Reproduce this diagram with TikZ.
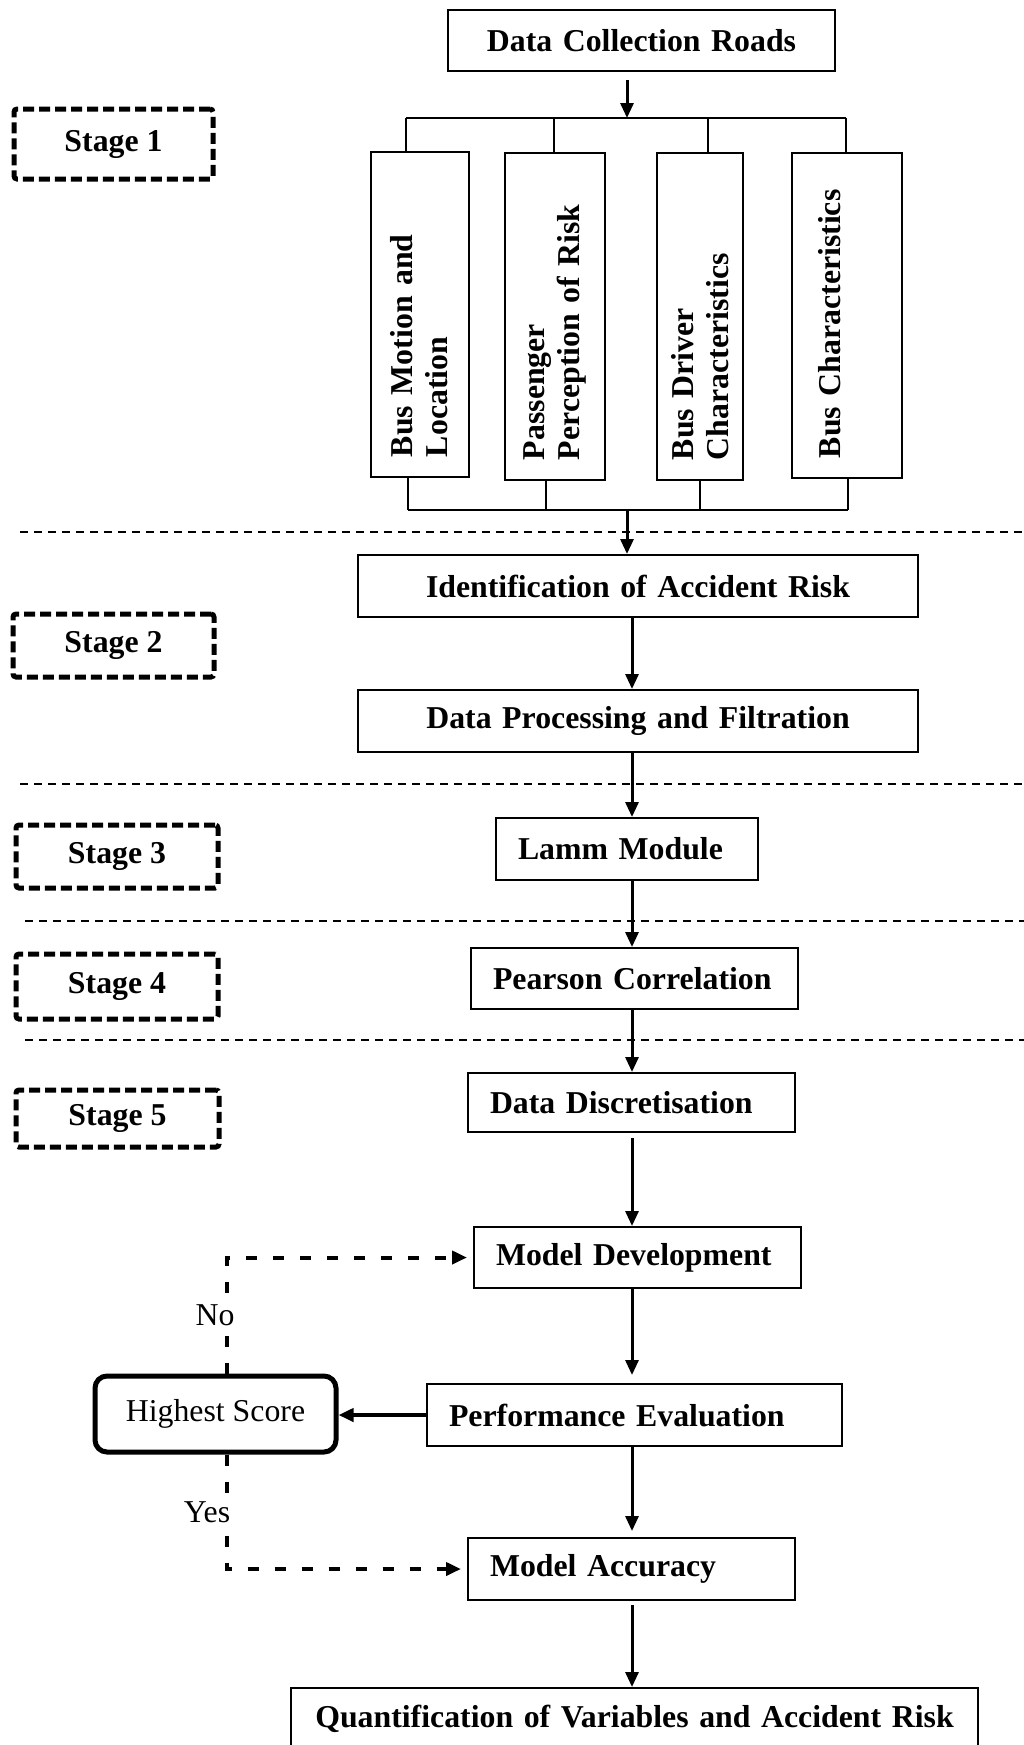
\documentclass[tikz,border=0pt]{standalone}
\usepackage{fontspec}
\setmainfont{Liberation Serif}
\usetikzlibrary{arrows.meta}

\begin{document}
\begin{tikzpicture}[
    x=1pt, y=-1pt,
    every node/.style={font=\fontsize{31.8}{35}\selectfont\bfseries, inner sep=0pt},
    procbox/.style={draw, line width=2pt, minimum height=62pt, inner xsep=22pt, anchor=north west},
    factorbox/.style={draw, line width=2pt, rotate=90, inner xsep=20pt, align=left},
    stagebox/.style={draw, line width=5pt, dash pattern=on 11pt off 5pt, rounded corners=3pt},
    scorebox/.style={draw, line width=5pt, rounded corners=12pt, font=\fontsize{31.8}{35}\selectfont, minimum width=241pt, minimum height=76pt},
    decision/.style={fill=white, font=\fontsize{31.8}{35}\selectfont, inner sep=8pt},
    arr/.style={line width=3pt, -{Triangle[length=15pt,width=13pt]}},
    feedback/.style={line width=4pt, dash pattern=on 11pt off 16pt, -{Triangle[length=15pt,width=13pt]}},
    branch/.style={line width=1.5pt},
    sep/.style={line width=1.5pt, dash pattern=on 8pt off 6pt}
]
\useasboundingbox (0,0) rectangle (1024,1745);

\foreach \y/\x in {532/20, 784/20, 921/25, 1040/25}
    \draw[sep] (\x,\y) -- (1024,\y);

\node[stagebox, minimum width=199pt, minimum height=70pt] (stage1) at (113.5,144) {Stage 1};
\node[stagebox, minimum width=201pt, minimum height=63pt] (stage2) at (113.5,645.5) {Stage 2};
\node[stagebox, minimum width=202pt, minimum height=63pt] (stage3) at (117,856.5) {Stage 3};
\node[stagebox, minimum width=202pt, minimum height=65pt] (stage4) at (117,986.5) {Stage 4};
\node[stagebox, minimum width=203pt, minimum height=57pt] (stage5) at (117.5,1118.5) {Stage 5};

\node[procbox, text width=343pt, align=center, minimum height=61pt] (collect) at (447,9) {Data Collection Roads};

\node[factorbox, minimum width=325pt, minimum height=98pt, text width=285pt] (motion) at (419.5,314.5) {Bus Motion and\\Location};
\node[factorbox, minimum width=327pt, minimum height=100pt, text width=287pt] (perception) at (555,316.5) {Passenger\\Perception of Risk};
\node[factorbox, minimum width=327pt, minimum height=86pt, text width=287pt] (driver) at (700,316.5) {Bus Driver\\Characteristics};
\node[factorbox, minimum width=325pt, minimum height=110pt, text width=285pt] (vehicle) at (847,315.5) {Bus Characteristics\\\mbox{}};

\coordinate (split) at (627,118);
\coordinate (merge) at (627,510);
\coordinate (col) at (632,0);
\coordinate (loop) at (227,0);

\draw[branch] (406,118) -- (846,118);
\draw[branch] (408,510) -- (848,510);
\foreach \name/\tx/\bx in {motion/406/408, perception/554/546, driver/708/700, vehicle/846/848} {
    \draw[branch] (\tx,118) -- (\tx,0 |- \name.east);
    \draw[branch] (\bx,0 |- \name.west) -- (\bx,510);
}

\node[procbox, text width=516pt, align=center] (identify) at (357,554) {Identification of Accident Risk};
\node[procbox, text width=516pt, align=center] (process) at (357,689) {Data Processing and Filtration};
\node[procbox, text width=218pt, align=left] (lamm) at (495,817) {Lamm Module};
\node[procbox, text width=283pt, align=left, minimum height=61pt] (pearson) at (470,947) {Pearson Correlation};
\node[procbox, text width=283pt, align=left, minimum height=59pt] (discrete) at (467,1072) {Data Discretisation};
\node[procbox, text width=283pt, align=left, minimum height=61pt] (develop) at (473,1226) {Model Development};
\node[procbox, text width=371pt, align=left] (evaluate) at (426,1383) {Performance Evaluation};
\node[procbox, text width=283pt, align=left] (accuracy) at (467,1537) {Model Accuracy};
\node[procbox, text width=643pt, align=center] (quantify) at (290,1687) {Quantification of Variables and Accident Risk};

\node[scorebox] (score) at (215.5,1414) {Highest Score};

\draw[arr] ([yshift=-8pt]collect.south -| split) -- (split);
\draw[arr] (merge) -- (identify.north -| merge);
\draw[arr] (identify.south -| col) -- (process.north -| col);
\draw[arr] (process.south -| col) -- (lamm.north -| col);
\draw[arr] (lamm.south -| col) -- (pearson.north -| col);
\draw[arr] (pearson.south -| col) -- (discrete.north -| col);
\draw[arr] ([yshift=-5pt]discrete.south -| col) -- (develop.north -| col);
\draw[arr, shorten >=8pt] (develop.south -| col) -- (evaluate.north -| col);
\draw[arr, shorten >=6pt] (evaluate.south -| col) -- (accuracy.north -| col);
\draw[arr] ([yshift=-4pt]accuracy.south -| col) -- (quantify.north -| col);
\draw[arr, line width=4pt] (evaluate.west) -- (evaluate.west -| score.east);

\draw[feedback, shorten >=6pt] (score.north -| loop) |- node[decision, pos=0.25, xshift=-12pt] {No} (develop.west);
\draw[feedback, shorten >=6pt] (score.south -| loop) |- node[decision, pos=0.25, xshift=-20pt] {Yes} (accuracy.west);
\end{tikzpicture}
\end{document}
